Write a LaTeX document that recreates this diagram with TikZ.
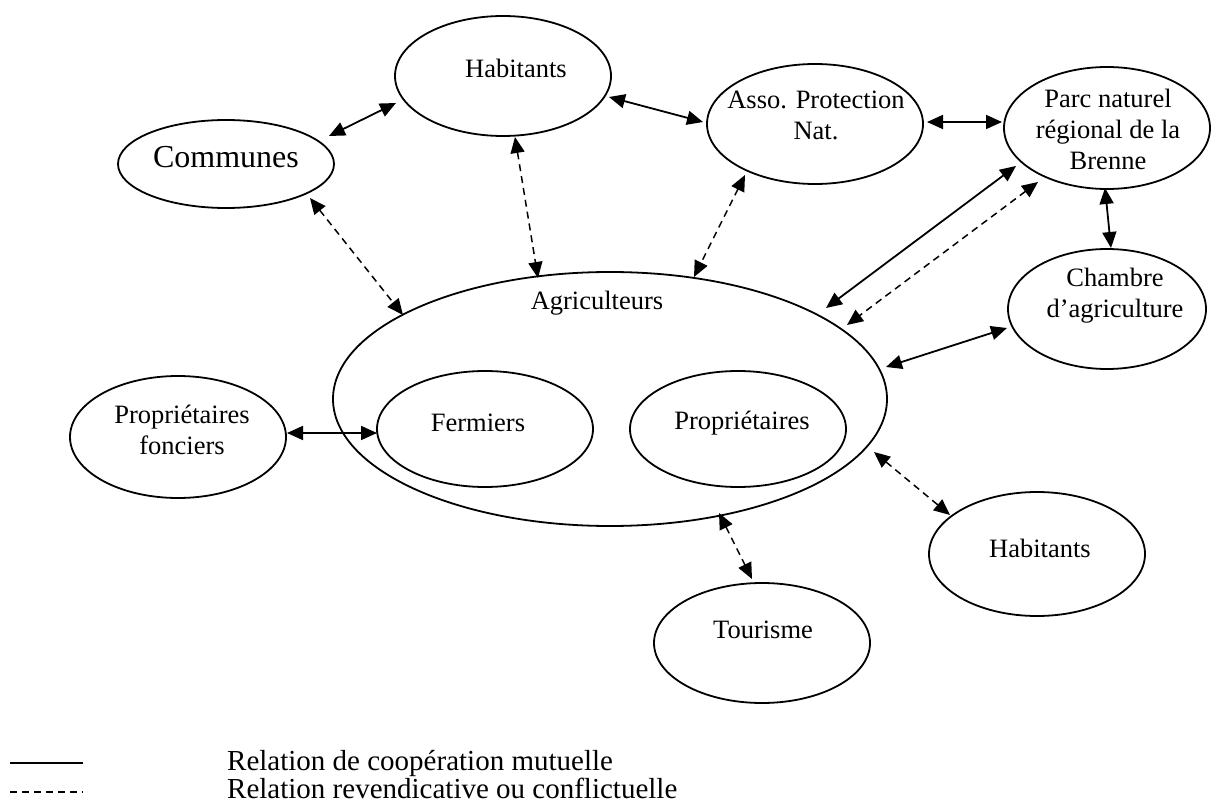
\documentclass[tikz,border=0pt]{standalone}
\usepackage{fontspec}
\setmainfont{Liberation Serif}
\usetikzlibrary{shapes.geometric,arrows.meta}
\begin{document}
\begin{tikzpicture}[x=1pt,y=-1pt,
  ell/.style={draw,ellipse,line width=1.8pt,inner sep=0pt,minimum width=216pt,minimum height=120pt},
  txt/.style={align=center,inner sep=0pt,font=\fontsize{26.5}{31}\selectfont},
  coop/.style={line width=1.8pt,{Triangle[length=16pt,width=14pt]}-{Triangle[length=16pt,width=14pt]}},
  conf/.style={line width=1.5pt,dash pattern=on 7pt off 5pt,{Triangle[length=16pt,width=14pt]}-{Triangle[length=16pt,width=14pt]}},
  legtxt/.style={anchor=base west,inner sep=0pt,font=\fontsize{29}{31}\selectfont}]
\fill[white] (0,0) rectangle (1216,805);
\useasboundingbox (0,0) rectangle (1216,805);
% ellipses
\node[ell] (hab1) at (503,76) {};
\node[ell,minimum height=88pt] (comm) at (226,164) {};
\node[ell] (asso) at (815,124) {};
\node[ell,minimum width=206pt,minimum height=122pt] (parc) at (1107,128) {};
\node[ell,minimum width=198pt] (cham) at (1107,309) {};
\node[ell,minimum width=554pt,minimum height=254pt] (agri) at (610,399) {};
\node[ell,minimum height=116pt] (ferm) at (485,429) {};
\node[ell,minimum height=116pt] (prop) at (738,429) {};
\node[ell,minimum height=122pt] (pf) at (178,437) {};
\node[ell,minimum height=124pt] (hab2) at (1037,554) {};
\node[ell,minimum height=120pt] (tour) at (762,643) {};
% texts
\node[txt] (hab1t) at (516,68) {Habitants};
\node[txt,font=\fontsize{32}{36}\selectfont] (commt) at (226,157) {Communes};
\node[txt] (assot) at (816,115) {Asso. Protection\\Nat.};
\node[txt] (parct) at (1108,129) {Parc naturel\\régional de la\\Brenne};
\node[txt] (chamt) at (1115,296) {Chambre\\d’agriculture};
\node[txt] (agrit) at (597,303) {Agriculteurs};
\node[txt] (fermt) at (478,423) {Fermiers};
\node[txt] (propt) at (742,423) {Propriétaires};
\node[txt] (pft) at (182,430) {Propriétaires\\fonciers};
\node[txt] (hab2t) at (1040,548) {Habitants};
\node[txt] (tourt) at (763,630) {Tourisme};
% connector end points
\coordinate (c1a) at (329,136); \coordinate (c1b) at (396,103);
\coordinate (c2a) at (609,97);  \coordinate (c2b) at (703,122);
\coordinate (c3a) at (927,122); \coordinate (c3b) at (1002,122);
\coordinate (c4a) at (1105,188); \coordinate (c4b) at (1111,248);
\coordinate (c5a) at (1016,166); \coordinate (c5b) at (826,308);
\coordinate (c6a) at (1038,182); \coordinate (c6b) at (847,325);
\coordinate (c7a) at (886,367); \coordinate (c7b) at (1007,328);
\coordinate (c8a) at (310,198); \coordinate (c8b) at (403,315);
\coordinate (c9a) at (515,137); \coordinate (c9b) at (538,278);
\coordinate (c10a) at (745,175); \coordinate (c10b) at (694,277);
\coordinate (c11a) at (287,433); \coordinate (c11b) at (377,433);
\coordinate (c12a) at (874,452); \coordinate (c12b) at (950,515);
\coordinate (c13a) at (719,513); \coordinate (c13b) at (752,579);
% cooperation
\draw[coop] (c1a) -- (c1b);
\draw[coop] (c2a) -- (c2b);
\draw[coop] (c3a) -- (c3b);
\draw[coop] (c4a) -- (c4b);
\draw[coop] (c5a) -- (c5b);
\draw[coop] (c7a) -- (c7b);
\draw[coop] (c11a) -- (c11b);
% conflict
\draw[conf] (c6a) -- (c6b);
\draw[conf] (c8a) -- (c8b);
\draw[conf] (c9a) -- (c9b);
\draw[conf] (c10a) -- (c10b);
\draw[conf] (c12a) -- (c12b);
\draw[conf] (c13a) -- (c13b);
% legend
\coordinate (l1a) at (10,763); \coordinate (l1b) at (83,763);
\coordinate (l2a) at (10,792); \coordinate (l2b) at (83,792);
\draw[line width=1.6pt] (l1a) -- (l1b);
\draw[line width=1.2pt,dash pattern=on 7pt off 5pt] (l2a) -- (l2b);
\node[legtxt] (leg1) at (227,770) {Relation de coopération mutuelle};
\node[legtxt] (leg2) at (227,798) {Relation revendicative ou conflictuelle};
\end{tikzpicture}
\end{document}
